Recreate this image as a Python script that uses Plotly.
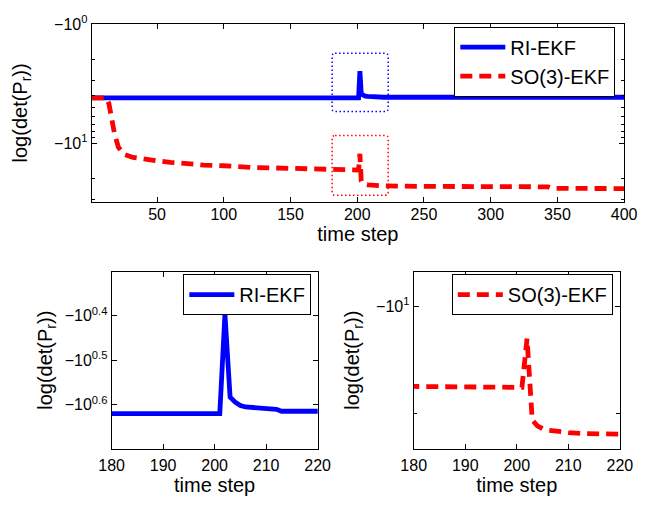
import numpy as np
import plotly.graph_objects as go

# ---------------- data ----------------
time_ri = [1, 180, 201, 202, 203, 204, 205, 206, 208, 210, 212, 213, 220, 400]
logdet_ri = [-4.17, -4.17, -4.17, -2.49, -3.83, -3.93, -4.00, -4.03, -4.05,
             -4.07, -4.08, -4.12, -4.12, -4.12]

time_so3 = [1, 12, 14, 16, 18, 21, 25, 32, 40, 50, 60, 70, 85, 100, 120, 150,
            175, 180, 200, 201, 202, 203, 204, 205, 206, 208, 210, 213, 216,
            220, 250, 300, 343, 346, 400]
logdet_so3 = [-4.17, -4.17, -4.7, -6.5, -8.2, -10.8, -12.4, -13.2, -13.7, -14.1,
              -14.5, -14.9, -15.3, -15.5, -16.0, -16.3, -16.6, -16.75, -16.85,
              -16.85, -12.3, -20.8, -21.6, -22.0, -22.2, -22.4, -22.55, -22.7,
              -22.85, -22.9, -23.1, -23.2, -23.3, -24.0, -24.1]

series_names = ["RI-EKF", "SO(3)-EKF"]

top_xticks = [50, 100, 150, 200, 250, 300, 350, 400]
top_yticks = [1, 10]
top_yticktext = ["−10<sup>0</sup>", "−10<sup>1</sup>"]
top_yminor = [2, 3, 4, 5, 6, 7, 8, 9, 20, 30]

zoom_xticks = [180, 190, 200, 210, 220]
ri_yticks = [10 ** 0.4, 10 ** 0.5, 10 ** 0.6]
ri_yticktext = ["−10<sup>0.4</sup>", "−10<sup>0.5</sup>", "−10<sup>0.6</sup>"]
so3_yticks = [10]
so3_yticktext = ["−10<sup>1</sup>"]
so3_yminor = [20]

# highlight boxes (time range, |log det| range)
box_t = [181.2, 223.2]
box_ri = [1.764, 5.43]
box_so3 = [8.65, 27.4]

# ---------------- styling ----------------
FONT = "Liberation Sans, Arial, Helvetica, sans-serif"
BLUE = "#0000ff"
RED = "#ff0000"
W, H = 653, 505

ri_mag = -np.array(logdet_ri)
so3_mag = -np.array(logdet_so3)

fig = go.Figure()

ri_line = dict(color=BLUE, width=4.8)
so3_line = dict(color=RED, width=4.8, dash="12px,7px")

# top panel
fig.add_trace(go.Scatter(x=time_ri, y=ri_mag, mode="lines", name=series_names[0],
                         line=ri_line, xaxis="x", yaxis="y", legend="legend"))
fig.add_trace(go.Scatter(x=time_so3, y=so3_mag, mode="lines", name=series_names[1],
                         line=so3_line, xaxis="x", yaxis="y", legend="legend"))
# bottom-left zoom
fig.add_trace(go.Scatter(x=time_ri, y=ri_mag, mode="lines", name=series_names[0],
                         line=ri_line, xaxis="x2", yaxis="y2", legend="legend2"))
# bottom-right zoom
fig.add_trace(go.Scatter(x=time_so3, y=so3_mag, mode="lines", name=series_names[1],
                         line=so3_line, xaxis="x3", yaxis="y3", legend="legend3"))

tickfont = dict(family=FONT, size=16, color="black")
titlefont = dict(family=FONT, size=20, color="black")

def xax(domain, rng, tickvals, anchor, lab_standoff, title_standoff):
    return dict(domain=domain, range=rng, anchor=anchor, tickvals=tickvals,
                ticks="inside", ticklen=5, tickcolor="black", mirror="ticks",
                showline=True, linecolor="black", linewidth=1, showgrid=False,
                zeroline=False, tickfont=tickfont, ticklabelstandoff=lab_standoff,
                title=dict(text="time step", font=titlefont, standoff=title_standoff))

def yax(domain, rng, tickvals, ticktext, anchor, standoff, minor=None):
    d = dict(domain=domain, type="log", range=rng, anchor=anchor,
             tickvals=tickvals, ticktext=ticktext, ticks="inside", ticklen=5,
             tickcolor="black", mirror="ticks", showline=True, linecolor="black",
             linewidth=1, showgrid=False, zeroline=False, tickfont=tickfont,
             title=dict(text="log(det(P<sub>r</sub>))", font=titlefont,
                        standoff=standoff))
    if minor is not None:
        d["minor"] = dict(tickvals=minor, ticks="inside", ticklen=3.5,
                          tickcolor="black", showgrid=False)
    return d

top_dom_x = [81.9 / W, 636.5 / W]
top_dom_y = [1 - 195 / H, 1 - 13.3 / H]
bl_dom_x = [102.7 / W, 317.3 / W]
br_dom_x = [417.3 / W, 632 / W]
bot_dom_y = [1 - 447.3 / H, 1 - 266.7 / H]

legend_common = dict(bgcolor="white", bordercolor="black", borderwidth=1,
                     font=dict(family=FONT, size=20, color="black"),
                     xanchor="right", yanchor="top", tracegroupgap=0,
                     itemwidth=45)

fig.update_layout(
    width=W, height=H,
    margin=dict(l=0, r=0, t=0, b=0),
    paper_bgcolor="white", plot_bgcolor="white",
    font=dict(family=FONT, color="black"),
    xaxis=xax(top_dom_x, [1, 400], top_xticks, "y", -2, 2),
    yaxis=yax(top_dom_y, [np.log10(31.1), 0], top_yticks, top_yticktext, "x", 21, top_yminor),
    xaxis2=xax(bl_dom_x, [180, 220], zoom_xticks, "y2", 2, 4),
    yaxis2=yax(bot_dom_y, [np.log10(5), np.log10(2)], ri_yticks, ri_yticktext, "x2", 6),
    xaxis3=xax(br_dom_x, [180, 220], zoom_xticks, "y3", 2, 4),
    yaxis3=yax(bot_dom_y, [np.log10(25), np.log10(8)], so3_yticks, so3_yticktext, "x3", 11, so3_yminor),
    legend=dict(x=627.3 / W, y=1 - 16 / H, **legend_common),
    legend2=dict(x=310.7 / W, y=1 - 269 / H, **legend_common),
    legend3=dict(x=624.7 / W, y=1 - 269 / H, **legend_common),
    showlegend=True,
)

def rounded_box(t, mag, rx=2.2, rlog=0.025):
    x0, x1 = t
    l0, l1 = np.log10(mag[0]), np.log10(mag[1])
    ya, yb = 10 ** l0, 10 ** l1
    yai, ybi = 10 ** (l0 + rlog), 10 ** (l1 - rlog)
    return (f"M{x0 + rx},{ya} L{x1 - rx},{ya} Q{x1},{ya} {x1},{yai} "
            f"L{x1},{ybi} Q{x1},{yb} {x1 - rx},{yb} L{x0 + rx},{yb} "
            f"Q{x0},{yb} {x0},{ybi} L{x0},{yai} Q{x0},{ya} {x0 + rx},{ya} Z")

for mag, col in [(box_ri, BLUE), (box_so3, RED)]:
    fig.add_shape(type="path", path=rounded_box(box_t, mag), xref="x", yref="y",
                  line=dict(color=col, width=1.5, dash="1.5px,2.5px"), layer="above")

fig.write_html("out.html")
